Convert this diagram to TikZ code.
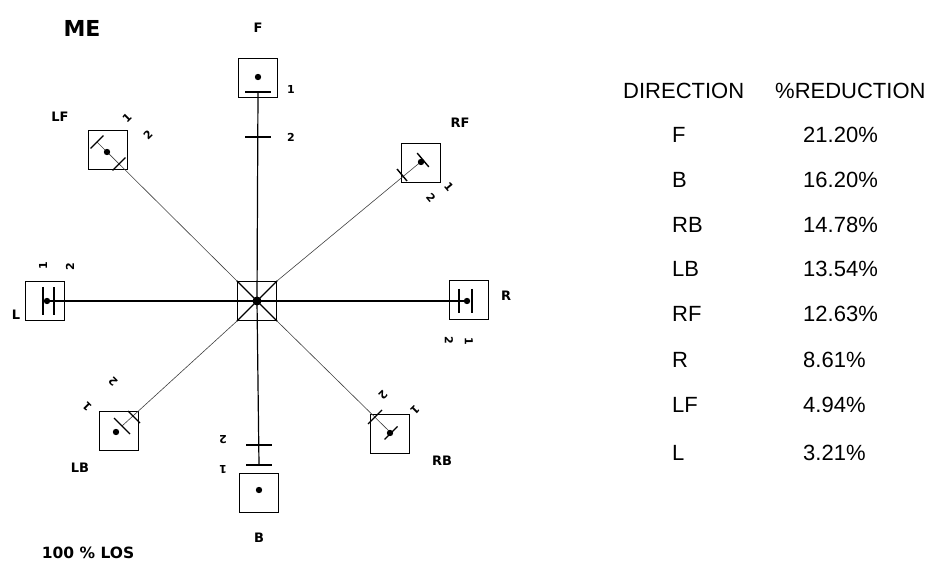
\documentclass[tikz,border=0pt]{standalone}
\usepackage{fontspec}
\setmainfont{Liberation Sans}
\newfontfamily\lblfont{DejaVu Sans}
\usepackage{tikz}

\tikzset{
    sensor/.style={draw, line width=1.4pt, minimum size=39pt, inner sep=0pt},
    arm/.style={line width=1.2pt},
    diag/.style={line width=0.6pt, black!75},
    bar/.style={line width=1.4pt},
    dirlbl/.style={font=\lblfont\bfseries\fontsize{13}{15}\selectfont},
    numlbl/.style={font=\lblfont\bfseries\fontsize{11}{13}\selectfont, inner sep=0pt},
    tbl/.style={font=\fontsize{22}{26}\selectfont, anchor=base west, inner sep=0pt},
}

\begin{document}
\begin{tikzpicture}[x=1pt,y=-1pt]
    \useasboundingbox (0,0) rectangle (940,561);

    % sensor boxes
    \node[sensor] (boxC) at (257,301) {};
    \node[sensor] (boxF) at (258,78) {};
    \node[sensor] (boxB) at (259,493) {};
    \node[sensor] (boxL) at (45,301) {};
    \node[sensor] (boxR) at (469,300) {};
    \node[sensor] (boxLF) at (108,150) {};
    \node[sensor] (boxRF) at (421,163) {};
    \node[sensor] (boxRB) at (390,434) {};
    \node[sensor] (boxLB) at (119,431) {};

    % tick and dot positions
    \coordinate (tF1) at (258,92);  \coordinate (tF2) at (258,137); \coordinate (dotF) at (258,77);
    \coordinate (tB1) at (259,465); \coordinate (tB2) at (259,445); \coordinate (dotB) at (259,490);
    \coordinate (tL1) at (43,301);  \coordinate (tL2) at (54,301);  \coordinate (dotL) at (47,301);
    \coordinate (tR1) at (472,301); \coordinate (tR2) at (459,301); \coordinate (dotR) at (467,301);
    \coordinate (tLF1) at (97,142);  \coordinate (tLF2) at (119,164); \coordinate (dotLF) at (107,152);
    \coordinate (tRF1) at (423,160); \coordinate (tRF2) at (402,175); \coordinate (dotRF) at (421,162);
    \coordinate (tRB1) at (391,433); \coordinate (tRB2) at (375,417); \coordinate (dotRB) at (390,433);
    \coordinate (tLB1) at (122,426); \coordinate (tLB2) at (134,417); \coordinate (dotLB) at (116,432);

    % arms
    \draw[arm] (tF1) -- (boxC.center) -- (tB1);
    \draw[arm] (dotL) -- (boxC.center) -- (dotR);
    \draw[diag] (boxC.north west) -- (tLF1);
    \draw[diag] (boxC.north east) -- (tRF1);
    \draw[diag] (boxC.south east) -- (tRB1);
    \draw[diag] (boxC.south west) -- (tLB1);
    \draw[line width=1.2pt] (boxC.north west) -- (boxC.south east) (boxC.north east) -- (boxC.south west);
    \fill (boxC.center) circle (4.5pt);

    % ticks
    \draw[line width=2.2pt] (tF1) ++(-13,0) -- ++(26,0);
    \draw[bar] (tF2) ++(-13,0) -- ++(26,0);
    \draw[bar] (tB1) ++(-13,0) -- ++(26,0);
    \draw[bar] (tB2) ++(-13,0) -- ++(26,0);
    \draw[bar] (tL1) ++(0,-14) -- ++(0,28);
    \draw[bar] (tL2) ++(0,-14) -- ++(0,28);
    \draw[bar] (tR1) ++(0,-12) -- ++(0,24);
    \draw[bar] (tR2) ++(0,-12) -- ++(0,24);
    \draw[bar] (tLF1) ++(-6.4,6.4) -- ++(12.8,-12.8);
    \draw[bar] (tLF2) ++(-6.4,6.4) -- ++(12.8,-12.8);
    \draw[bar] (tRF1) ++(-5.8,-6.9) -- ++(11.6,13.8);
    \draw[bar] (tRF2) ++(-5,-6) -- ++(10,12);
    \draw[bar] (tRB1) ++(-6.5,6.5) -- ++(13,-13);
    \draw[bar] (tRB2) ++(-7,7) -- ++(14,-14);
    \draw[bar] (tLB1) ++(-8,-8) -- ++(16,16);
    \draw[bar] (tLB2) ++(-6,-6) -- ++(12,12);

    % dots
    \foreach \d in {dotF,dotB,dotL,dotR,dotLF,dotRF,dotRB,dotLB}
        \fill (\d) circle (3.2pt);

    % tick numbers
    \node[numlbl] (nF1) at (291,89) {1};
    \node[numlbl] (nF2) at (291,137) {2};
    \node[numlbl, rotate=180] (nB2) at (223,440) {2};
    \node[numlbl, rotate=180] (nB1) at (223,470) {1};
    \node[numlbl, rotate=90] (nL1) at (43,266) {1};
    \node[numlbl, rotate=90] (nL2) at (70,267) {2};
    \node[numlbl, rotate=-90] (nR2) at (449,340) {2};
    \node[numlbl, rotate=-90] (nR1) at (469,341) {1};
    \node[numlbl, rotate=45] (nLF1) at (127,118) {1};
    \node[numlbl, rotate=45] (nLF2) at (148,135) {2};
    \node[numlbl, rotate=-50] (nRF1) at (449,187) {1};
    \node[numlbl, rotate=-50] (nRF2) at (431,198) {2};
    \node[numlbl, rotate=-135] (nRB2) at (383,395) {2};
    \node[numlbl, rotate=-135] (nRB1) at (415,410) {1};
    \node[numlbl, rotate=135] (nLB2) at (113,382) {2};
    \node[numlbl, rotate=135] (nLB1) at (87,407) {1};

    % direction names
    \node[dirlbl] (lF) at (258,28) {F};
    \node[dirlbl] (lB) at (259,538) {B};
    \node[dirlbl] (lL) at (16,315) {L};
    \node[dirlbl] (lR) at (506,296) {R};
    \node[dirlbl] (lLF) at (60,117) {LF};
    \node[dirlbl] (lRF) at (460,123) {RF};
    \node[dirlbl] (lRB) at (442,461) {RB};
    \node[dirlbl] (lLB) at (80,468) {LB};

    \node[font=\lblfont\bfseries\fontsize{22}{26}\selectfont] (title) at (82,28) {ME};
    \node[font=\lblfont\bfseries\fontsize{15.5}{18}\selectfont] (los) at (88,553) {100 \% LOS};

    % table
    \node[tbl] (hDir) at (623,99) {DIRECTION};
    \node[tbl] (hRed) at (775,99) {\%REDUCTION};
    \node[tbl] (dF) at (672,143) {F};   \node[tbl] (vF) at (803,143) {21.20\%};
    \node[tbl] (dB) at (672,188) {B};   \node[tbl] (vB) at (803,188) {16.20\%};
    \node[tbl] (dRB) at (672,233) {RB}; \node[tbl] (vRB) at (803,233) {14.78\%};
    \node[tbl] (dLB) at (672,277) {LB}; \node[tbl] (vLB) at (803,277) {13.54\%};
    \node[tbl] (dRF) at (672,322) {RF}; \node[tbl] (vRF) at (803,322) {12.63\%};
    \node[tbl] (dR) at (672,367) {R};   \node[tbl] (vR) at (803,367) {8.61\%};
    \node[tbl] (dLF) at (672,412) {LF}; \node[tbl] (vLF) at (803,412) {4.94\%};
    \node[tbl] (dL) at (672,460) {L};   \node[tbl] (vL) at (803,460) {3.21\%};
\end{tikzpicture}
\end{document}
